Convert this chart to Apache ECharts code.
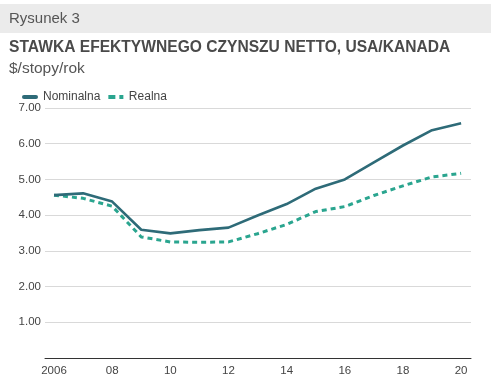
<!DOCTYPE html>
<html><head><meta charset="utf-8">
<script src="https://cdn.jsdelivr.net/npm/echarts@6/dist/echarts.min.js"></script>
<style>html,body{margin:0;padding:0;background:#fff}#c{width:503px;height:386px}</style>
</head><body><div id="c"></div>
<script>
const years = [2006,2007,2008,2009,2010,2011,2012,2013,2014,2015,2016,2017,2018,2019,2020];
const nominal = [4.56,4.61,4.38,3.59,3.49,3.58,3.65,3.99,4.31,4.74,5.00,5.48,5.95,6.38,6.57];
const real    = [4.56,4.47,4.25,3.39,3.25,3.24,3.25,3.48,3.74,4.10,4.24,4.55,4.82,5.07,5.17];
const xTicks = [2006,2008,2010,2012,2014,2016,2018,2020];
const xTickLabels = ['2006','08','10','12','14','16','18','20'];
const yTickLabels = ['','1.00','2.00','3.00','4.00','5.00','6.00','7.00'];
const seriesNames = ['Nominalna','Realna'];

const chart = echarts.init(document.getElementById('c'), null, {renderer:'canvas'});
const font = 'Liberation Sans, Arial, sans-serif';
chart.setOption({
  animation:false,
  textStyle:{fontFamily:font},
  graphic:[
    {type:'rect', shape:{x:0,y:4,width:491,height:29}, style:{fill:'#ebebeb'}},
    {type:'text', x:9, y:19, style:{text:'Rysunek 3', fill:'#555', font:'15px '+font, textVerticalAlign:'middle'}},
    {type:'text', x:9, y:48, style:{text:'STAWKA EFEKTYWNEGO CZYNSZU NETTO, USA/KANADA', fill:'#4a4a4a', font:'bold 15.6px '+font, textVerticalAlign:'middle'}},
    {type:'text', x:9, y:69, style:{text:'$/stopy/rok', fill:'#555', font:'15.5px '+font, textVerticalAlign:'middle'}}
  ],
  legend:{
    left:17, top:86, itemWidth:16, itemHeight:4, itemGap:8,
    textStyle:{fontSize:12, color:'#444', fontFamily:font},
    data:[
      {name:seriesNames[0], icon:'path://M2,0H14A2,2,0,0,1,14,4H2A2,2,0,0,1,2,0Z'},
      {name:seriesNames[1], icon:'path://M0,0H7V4H0Z M11,0H15V4H11Z'}
    ]
  },
  grid:{left:45, right:32, top:108, bottom:28},
  xAxis:{
    type:'value', min:2005.69, max:2020.34,
    axisLine:{show:true, onZero:false, lineStyle:{color:'#333', width:1}},
    axisTick:{show:false},
    splitLine:{show:false},
    axisLabel:{
      customValues:xTicks, margin:7, fontSize:11.5, color:'#444',
      formatter:(v)=>xTickLabels[xTicks.indexOf(Math.round(v))] ?? ''
    }
  },
  yAxis:{
    type:'value', min:0, max:7, interval:1,
    axisLine:{show:false}, axisTick:{show:false},
    splitLine:{lineStyle:{color:'#d9d9d9', width:1}},
    axisLabel:{margin:4, fontSize:11.5, color:'#444', formatter:(v)=>yTickLabels[Math.round(v)]}
  },
  series:[
    {name:seriesNames[0], type:'line', symbol:'none', data:years.map((y,i)=>[y,nominal[i]]),
     lineStyle:{color:'#2e6b78', width:2.6}, itemStyle:{color:'#2e6b78'}, z:3},
    {name:seriesNames[1], type:'line', symbol:'none', data:years.map((y,i)=>[y,real[i]]),
     lineStyle:{color:'#2aa58f', width:3, type:[5,4]}, itemStyle:{color:'#2aa58f'}, z:2}
  ]
});
</script></body></html>
